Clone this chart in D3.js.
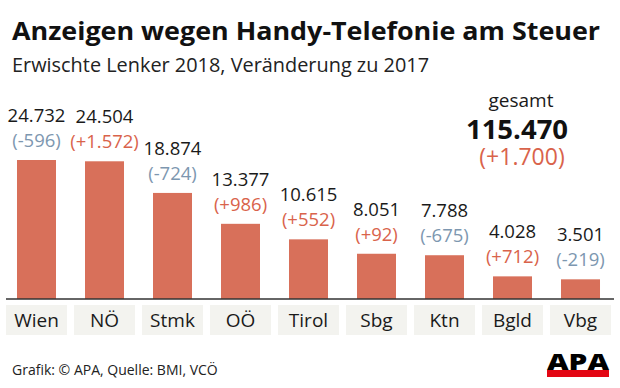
<!DOCTYPE html>
<html>
<head>
<meta charset="utf-8">
<script src="https://cdn.jsdelivr.net/npm/d3@7"></script>
<style>
  html, body { margin: 0; padding: 0; background: #fff; }
  svg { display: block; font-family: "Open Sans", sans-serif; }
</style>
</head>
<body>
<div id="chart"></div>
<script>
// Daten
var categories = ["Wien", "NÖ", "Stmk", "OÖ", "Tirol", "Sbg", "Ktn", "Bgld", "Vbg"];
var values = [24732, 24504, 18874, 13377, 10615, 8051, 7788, 4028, 3501];
var changes = [-596, 1572, -724, 986, 552, 92, -675, 712, -219];
var total = 115470;
var totalChange = 1700;

var width = 620, height = 388;
var baseY = 299;

var colBar = "#d8705a";
var colPos = "#d9634b";
var colNeg = "#7d97b0";
var colText = "#1a1a1a";

var de = d3.formatLocale({decimal: ",", thousands: ".", grouping: [3], currency: ["", " €"]});
var fmt = de.format(",d");
function fmtChange(v){ return "(" + (v > 0 ? "+" : "-") + fmt(Math.abs(v)) + ")"; }

var svg = d3.select("#chart").append("svg")
  .attr("width", width)
  .attr("height", height);

// Titel
svg.append("text")
  .attr("x", 12).attr("y", 40)
  .attr("font-size", 25).attr("font-weight", 700)
  .attr("fill", "#111")
  .attr("textLength", 588).attr("lengthAdjust", "spacingAndGlyphs")
  .text("Anzeigen wegen Handy-Telefonie am Steuer");
svg.append("text")
  .attr("x", 12).attr("y", 72)
  .attr("font-size", 20)
  .attr("fill", "#222")
  .attr("textLength", 417).attr("lengthAdjust", "spacingAndGlyphs")
  .text("Erwischte Lenker 2018, Veränderung zu 2017");

var x = d3.scaleBand()
  .domain(categories)
  .range([2.5, 614.5])
  .paddingInner(0.4265)
  .paddingOuter(0.2132);

var y = d3.scaleLinear()
  .domain([0, 25000])
  .range([baseY, baseY - 140.5]);

var data = categories.map(function(c, i){ return {cat: c, v: values[i], ch: changes[i]}; });

// Beschriftungs-Kästchen
svg.append("g").selectAll("rect")
  .data(data)
  .enter().append("rect")
  .attr("x", function(d){ return x(d.cat) + x.bandwidth()/2 - 30.5; })
  .attr("y", 305)
  .attr("width", 61)
  .attr("height", 30)
  .attr("fill", "#f3f3ef");

svg.append("g").selectAll("text")
  .data(data)
  .enter().append("text")
  .attr("x", function(d){ return x(d.cat) + x.bandwidth()/2; })
  .attr("y", 327)
  .attr("text-anchor", "middle")
  .attr("font-size", 19)
  .attr("fill", colText)
  .text(function(d){ return d.cat; });

// Balken
svg.append("g").selectAll("rect")
  .data(data)
  .enter().append("rect")
  .attr("x", function(d){ return x(d.cat); })
  .attr("y", function(d){ return y(d.v); })
  .attr("width", x.bandwidth())
  .attr("height", function(d){ return baseY - y(d.v); })
  .attr("fill", colBar);

svg.append("line")
  .attr("x1", 6).attr("x2", 614)
  .attr("y1", baseY).attr("y2", baseY)
  .attr("stroke", "#333").attr("stroke-width", 1.5);

// Werte
var lab = svg.append("g").selectAll("g")
  .data(data)
  .enter().append("g")
  .attr("transform", function(d){ return "translate(" + (x(d.cat) + x.bandwidth()/2) + "," + y(d.v) + ")"; });
lab.append("text")
  .attr("y", -38)
  .attr("text-anchor", "middle")
  .attr("font-size", 18.5)
  .attr("fill", colText)
  .text(function(d){ return fmt(d.v); });
lab.append("text")
  .attr("y", -13)
  .attr("text-anchor", "middle")
  .attr("font-size", 18.5)
  .attr("fill", function(d){ return d.ch > 0 ? colPos : colNeg; })
  .text(function(d){ return fmtChange(d.ch); });

// gesamt
svg.append("text")
  .attr("x", 521).attr("y", 107)
  .attr("text-anchor", "middle")
  .attr("font-size", 19)
  .attr("fill", colText)
  .text("gesamt");
svg.append("text")
  .attr("x", 517).attr("y", 139)
  .attr("text-anchor", "middle")
  .attr("font-size", 27.5).attr("font-weight", 700)
  .attr("fill", "#111")
  .text(fmt(total));
svg.append("text")
  .attr("x", 522).attr("y", 165)
  .attr("text-anchor", "middle")
  .attr("font-size", 23)
  .attr("fill", colPos)
  .text(fmtChange(totalChange));

// Fußzeile
svg.append("text")
  .attr("x", 12).attr("y", 375)
  .attr("font-size", 14)
  .attr("fill", "#222")
  .text("Grafik: © APA, Quelle: BMI, VCÖ");

// APA Logo
svg.append("text")
  .attr("x", 547).attr("y", 370)
  .attr("font-size", 23).attr("font-weight", 800)
  .attr("fill", "#000")
  .attr("textLength", 62).attr("lengthAdjust", "spacingAndGlyphs")
  .text("APA");
svg.append("rect")
  .attr("x", 547).attr("y", 370)
  .attr("width", 62).attr("height", 7)
  .attr("fill", "#e30613");
</script>
</body>
</html>
